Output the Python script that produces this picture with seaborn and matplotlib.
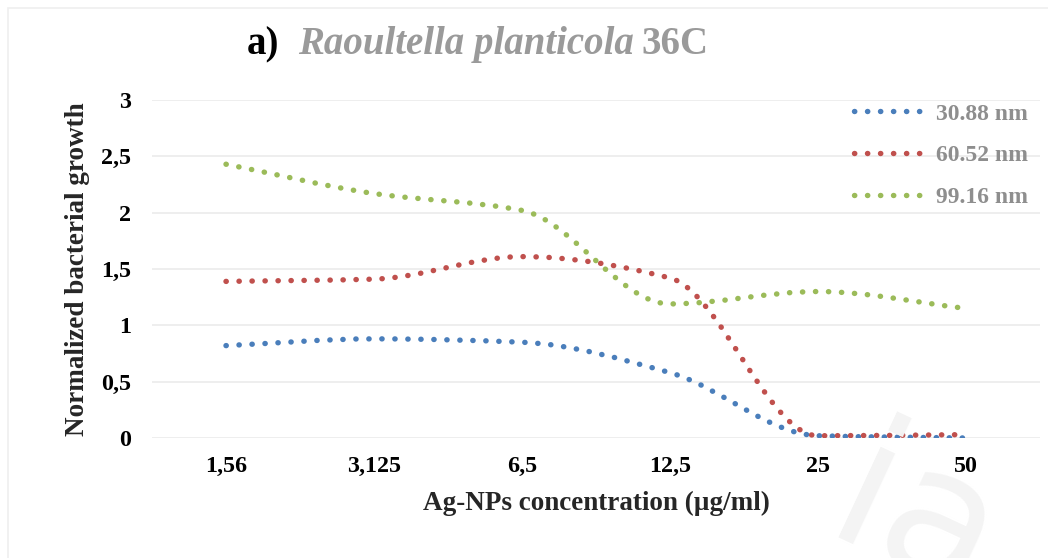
import numpy as np
import pandas as pd
import matplotlib
matplotlib.use("Agg")
import matplotlib.pyplot as plt
from matplotlib.path import Path
from matplotlib.patches import PathPatch, Rectangle
from matplotlib.lines import Line2D
import seaborn as sns

# Ag-NP concentrations (µg/ml) shown as categories
concentrations = ["1,56", "3,125", "6,5", "12,5", "25", "50"]

# Normalized bacterial growth per nanoparticle size
growth_30_88 = [0.82, 0.88, 0.85, 0.58, 0.02, 0.00]
growth_60_52 = [1.39, 1.41, 1.61, 1.42, 0.02, 0.03]
growth_99_16 = [2.43, 2.17, 2.02, 1.19, 1.30, 1.15]

series_labels = ["30.88 nm", "60.52 nm", "99.16 nm"]
series_colors = ["#4A7EBB", "#C0504D", "#9BBB59"]

y_ticks = [0, 0.5, 1, 1.5, 2, 2.5, 3]
y_tick_labels = ["0", "0,5", "1", "1,5", "2", "2,5", "3"]

sns.set_theme(style="white")
plt.rcParams["font.family"] = ["Liberation Serif", "DejaVu Serif"]
plt.rcParams["font.weight"] = "bold"

W, H = 1048, 558
fig = plt.figure(figsize=(W / 100, H / 100), dpi=100)
ax = fig.add_axes([152 / W, 1 - 438 / H, (1040 - 152) / W, (438 - 100) / H])

df = pd.DataFrame({
    "pos": list(range(len(concentrations))) * 3,
    "growth": growth_30_88 + growth_60_52 + growth_99_16,
    "size": np.repeat(series_labels, len(concentrations)),
})

sns.lineplot(data=df, x="pos", y="growth", hue="size", palette=series_colors,
             hue_order=series_labels, estimator=None, sort=False, legend=False, ax=ax)

ax.set_xlim(-0.5, len(concentrations) - 0.5)
ax.set_ylim(0, 3)

DOTS = (0, (0.05, 2.35))
LW = 3.9


def smooth_path(xy):
    """Shape-preserving cubic (monotone Hermite) path through the points."""
    x, y = xy[:, 0], xy[:, 1]
    h = np.diff(x)
    d = np.diff(y) / h
    n = len(x)
    m = np.zeros(n)
    for k in range(1, n - 1):
        if d[k - 1] * d[k] > 0:
            w1 = 2 * h[k] + h[k - 1]
            w2 = h[k] + 2 * h[k - 1]
            m[k] = (w1 + w2) / (w1 / d[k - 1] + w2 / d[k])
    m[0], m[-1] = d[0], d[-1]
    verts = [(x[0], y[0])]
    codes = [Path.MOVETO]
    for k in range(n - 1):
        verts += [(x[k] + h[k] / 3, y[k] + m[k] * h[k] / 3),
                  (x[k + 1] - h[k] / 3, y[k + 1] - m[k + 1] * h[k] / 3),
                  (x[k + 1], y[k + 1])]
        codes += [Path.CURVE4] * 3
    return Path(verts, codes)


for line, color in zip(list(ax.lines), series_colors):
    xy = line.get_xydata()
    line.set_visible(False)
    patch = PathPatch(smooth_path(xy), fill=False, edgecolor=color, lw=LW,
                      linestyle=DOTS, capstyle="round", zorder=3)
    ax.add_patch(patch)

# axes styling
for s in ax.spines.values():
    s.set_visible(False)
ax.yaxis.grid(True, color="#ededed", lw=1.3)
ax.xaxis.grid(False)
ax.set_axisbelow(True)
ax.set_xticks(range(len(concentrations)))
ax.set_xticklabels(concentrations)
ax.set_yticks(y_ticks)
ax.set_yticklabels(y_tick_labels)
ax.tick_params(axis="both", length=0, labelsize=17.3, labelcolor="black")
ax.tick_params(axis="y", pad=15)
ax.tick_params(axis="x", pad=13)
for t in ax.get_xticklabels() + ax.get_yticklabels():
    t.set_fontweight("bold")
ax.set_xlabel("Ag-NPs concentration (µg/ml)", fontsize=19.5, fontweight="bold", labelpad=10)
ax.set_ylabel("Normalized bacterial growth", fontsize=19.5, fontweight="bold", labelpad=8)
ax.patch.set_alpha(0)

# legend
handles = [Line2D([], [], color=c, lw=LW, linestyle=DOTS, dash_capstyle="round")
           for c in series_colors]
leg = ax.legend(handles, series_labels, loc="upper left",
                bbox_to_anchor=(854 / W, 1 - 103 / H), bbox_transform=fig.transFigure,
                frameon=False, fontsize=17, handlelength=3.05, handletextpad=0.42,
                labelspacing=0.86, borderaxespad=0, borderpad=0)
for t in leg.get_texts():
    t.set_color("#8e8e8e")
    t.set_fontweight("bold")

# chart border
fig.add_artist(Rectangle((8 / W, -0.05), 1.2, 1.05 - 8 / H, transform=fig.transFigure,
                         fill=False, ec="#efefef", lw=1.2, zorder=0))

# faint watermark
fig.text(915 / W, 1 - 525 / H, "ia", fontsize=130, color="#f4f4f4", rotation=-25,
         family="DejaVu Sans", fontweight="normal", ha="center", va="center", zorder=0)

# title in mixed styles
fig.canvas.draw()
r = fig.canvas.get_renderer()
base_y = 1 - 54 / H
fig.text(247 / W, base_y, "a)", fontsize=28, fontweight="bold", color="black",
         va="baseline")
t2 = fig.text(298 / W, base_y, "Raoultella planticola", fontsize=28, fontweight="bold",
              style="italic", color="#9a9a9a", va="baseline")
bb = t2.get_window_extent(renderer=r)
fig.text((bb.x1 + 8) / W, base_y, "36C", fontsize=28, fontweight="bold",
         color="#9a9a9a", va="baseline")

fig.savefig("out.png", dpi=100, facecolor="white")
